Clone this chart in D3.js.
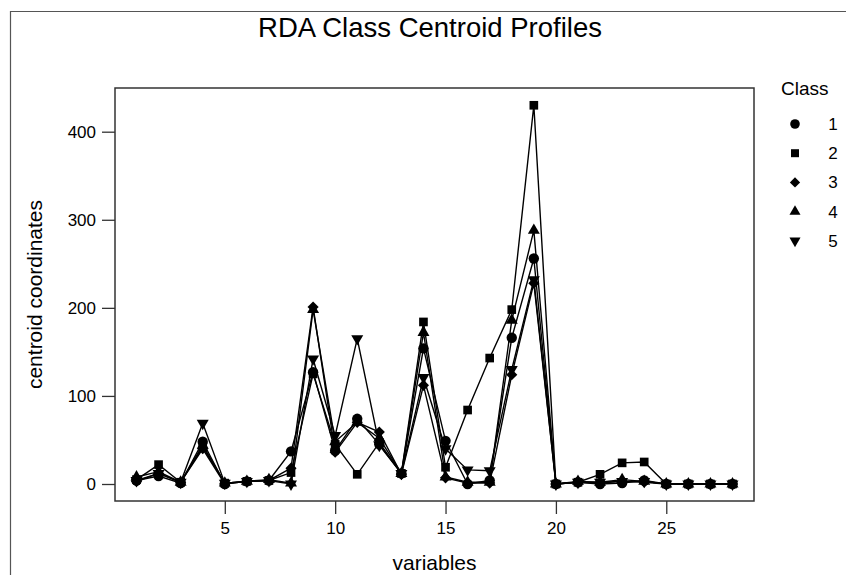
<!DOCTYPE html>
<html>
<head>
<meta charset="utf-8">
<script src="https://cdn.jsdelivr.net/npm/d3@7"></script>
<style>
  body { margin: 0; background: #fff; }
  svg { font-family: "Liberation Sans", Arial, sans-serif; }
  .tick text { font-size: 17px; fill: #000; }
  .tick line { stroke: #333; stroke-width: 1.3; }
</style>
</head>
<body>
<div id="chart"></div>
<script>
// variables 1..28
var variables = d3.range(1, 29);
var classes = ['1', '2', '3', '4', '5'];

// centroid coordinates, one array per class
var class1 = [4, 9, 1, 48, 0, 3, 4, 37, 127, 38, 74, 45, 12, 154, 49, 0, 4, 166, 256, 0, 2, 0, 1, 4, 0, 0, 0, 0];
var class2 = [5, 22, 2, 42, 1, 3, 4, 13, 125, 45, 11, 47, 12, 184, 19, 84, 143, 198, 430, 0, 2, 11, 24, 25, 0, 0, 0, 0];
var class3 = [3, 12, 2, 40, 0, 3, 4, 18, 201, 36, 70, 59, 11, 112, 7, 1, 1, 124, 228, 0, 2, 1, 3, 2, 0, 0, 0, 0];
var class4 = [8, 14, 2, 44, 1, 3, 5, 1, 198, 48, 70, 52, 12, 172, 8, 2, 2, 186, 288, 0, 3, 2, 5, 3, 0, 0, 0, 0];
var class5 = [4, 12, 2, 69, 1, 3, 4, 0, 142, 55, 165, 44, 12, 121, 40, 16, 15, 130, 232, 0, 2, 2, 3, 3, 0, 0, 0, 0];

var xTicks = [5, 10, 15, 20, 25];
var yTicks = [0, 100, 200, 300, 400];

var series = [class1, class2, class3, class4, class5];
// diamond = square turned 45 degrees, down triangle = triangle turned 180
var shapes = [d3.symbolCircle, d3.symbolSquare, d3.symbolSquare, d3.symbolTriangle, d3.symbolTriangle];
var turns = [0, 0, 45, 0, 180];
var sizes = [85, 75, 62, 62, 62];

var width = 846, height = 575;
var box = {left: 115, right: 754, top: 88, bottom: 501};

var svg = d3.select('#chart').append('svg')
    .attr('width', width)
    .attr('height', height);

// outer frame remnant
svg.append('path')
    .attr('d', 'M10.5,' + height + 'V11.5H' + width)
    .attr('fill', 'none')
    .attr('stroke', '#555')
    .attr('stroke-width', 1.2);

var xScale = d3.scaleLinear().domain([1, 28]).range([136.5, 732.5]);
var yScale = d3.scaleLinear().domain([0, 400]).range([484, 131.7]);

// Axes
var xAxis = d3.axisBottom(xScale).tickValues(xTicks).tickSize(13).tickPadding(8).tickSizeOuter(0);
var yAxis = d3.axisLeft(yScale).tickValues(yTicks).tickSize(13).tickPadding(6).tickSizeOuter(0);

svg.append('g')
    .attr('class', 'x-axis')
    .attr('transform', 'translate(0,' + box.bottom + ')')
    .call(xAxis)
    .call(function(g) { g.select('.domain').remove(); });

svg.append('g')
    .attr('class', 'y-axis')
    .attr('transform', 'translate(' + box.left + ',0)')
    .call(yAxis)
    .call(function(g) { g.select('.domain').remove(); });

// plot box
svg.append('rect')
    .attr('x', box.left)
    .attr('y', box.top)
    .attr('width', box.right - box.left)
    .attr('height', box.bottom - box.top)
    .attr('fill', 'none')
    .attr('stroke', '#333')
    .attr('stroke-width', 1.5);

// Lines
var line = d3.line()
    .x(function(d, i) { return xScale(variables[i]); })
    .y(function(d) { return yScale(d); });

var plot = svg.append('g').attr('class', 'chart-g');

plot.selectAll('path.lines')
    .data(series)
    .enter()
    .append('path')
    .attr('class', 'lines')
    .attr('d', line)
    .attr('fill', 'none')
    .attr('stroke', '#000')
    .attr('stroke-width', 1.4);

// Points, class 5 first so circles end up on top
[4, 3, 2, 1, 0].forEach(function(c) {
    var sym = d3.symbol().type(shapes[c]).size(sizes[c]);
    plot.append('g')
        .selectAll('path')
        .data(series[c])
        .enter()
        .append('path')
        .attr('d', sym)
        .attr('fill', '#000')
        .attr('transform', function(d, i) {
            return 'translate(' + xScale(variables[i]) + ',' + yScale(d) + ') rotate(' + turns[c] + ')';
        });
});

// Titles
svg.append('text')
    .attr('x', 430)
    .attr('y', 37)
    .attr('text-anchor', 'middle')
    .style('font-size', '27.5px')
    .text('RDA Class Centroid Profiles');

svg.append('text')
    .attr('x', (box.left + box.right) / 2)
    .attr('y', 570)
    .attr('text-anchor', 'middle')
    .style('font-size', '21px')
    .text('variables');

svg.append('text')
    .attr('transform', 'translate(42,' + ((box.top + box.bottom) / 2) + ') rotate(-90)')
    .attr('text-anchor', 'middle')
    .style('font-size', '21px')
    .text('centroid coordinates');

// Legend
var legend = svg.append('g').attr('class', 'legend');
legend.append('text')
    .attr('x', 781)
    .attr('y', 95)
    .style('font-size', '19px')
    .text('Class');

var rows = legend.selectAll('g.row')
    .data(classes)
    .enter()
    .append('g')
    .attr('class', 'row')
    .attr('transform', function(d, i) { return 'translate(0,' + (124 + i * 29.2) + ')'; });

rows.append('path')
    .attr('d', function(d, i) { return d3.symbol().type(shapes[i]).size(sizes[i] * 0.85)(); })
    .attr('transform', function(d, i) { return 'translate(795,0) rotate(' + turns[i] + ')'; })
    .attr('fill', '#000');

rows.append('text')
    .attr('x', 833)
    .attr('y', 6)
    .attr('text-anchor', 'middle')
    .style('font-size', '17px')
    .text(function(d) { return d; });
</script>
</body>
</html>
